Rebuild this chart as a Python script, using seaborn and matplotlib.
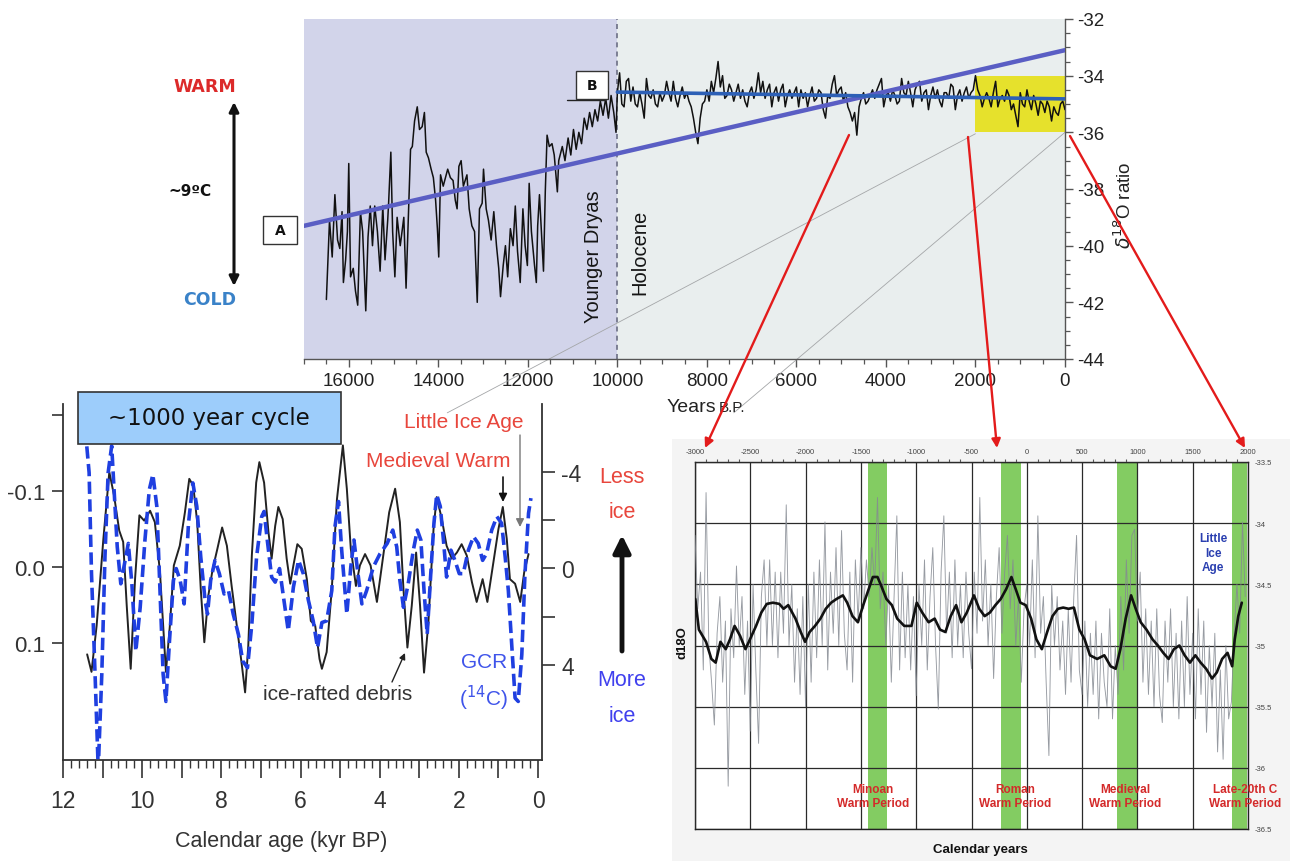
import numpy as np
import pandas as pd
import matplotlib
matplotlib.use("Agg")
import matplotlib.pyplot as plt
import matplotlib.ticker as mticker
from matplotlib.patches import Rectangle, FancyArrowPatch
from matplotlib.lines import Line2D
import seaborn as sns

# ---------------------------------------------------------------- data
# GISP2 oxygen-isotope record, glacial part (years before present, per-mil)
GLACIAL_YEARS = [
    16500, 16430, 16370, 16310, 16250, 16200, 16150, 16120, 16070, 16030,
    16000, 15960, 15900, 15850, 15800, 15740, 15690, 15620, 15570, 15520,
    15470, 15420, 15360, 15300, 15240, 15190, 15130, 15110, 15060, 15020,
    14970, 14920, 14850, 14770, 14720, 14670, 14620, 14580, 14530, 14470,
    14420, 14360, 14310, 14270, 14220, 14160, 14110, 14060, 14020, 13990,
    13950, 13890, 13840, 13790, 13730, 13670, 13620, 13580, 13540, 13490,
    13440, 13360, 13310, 13250, 13190, 13130, 13080, 13020, 12990, 12930,
    12880, 12820, 12760, 12700, 12650, 12610, 12550, 12500, 12450, 12390,
    12330, 12280, 12230, 12170, 12110, 12060, 12010, 11970, 11920, 11850,
    11810, 11780, 11740, 11680, 11650, 11610, 11570, 11520, 11460, 11410,
    11340, 11310, 11230, 11170, 11100, 11040, 10980, 10920, 10860, 10800,
    10740, 10680, 10620, 10560, 10500, 10440, 10380, 10320, 10260, 10200,
    10140, 10080, 10030,
]
GLACIAL_D18O = [
    -41.9, -39.1, -40.4, -38.2, -39.8, -40.1, -38.8, -41.3, -40.5, -39.5,
    -37.1, -41.1, -40.8, -41.6, -42.1, -38.8, -39.5, -42.3, -39.7, -38.6,
    -40.0, -38.6, -39.5, -40.9, -38.6, -40.5, -39.1, -38.5, -36.7, -39.5,
    -41.1, -39.0, -40.0, -39.0, -41.5, -39.1, -36.6, -36.5, -35.6, -35.1,
    -35.9, -35.8, -35.3, -36.7, -36.9, -37.3, -37.6, -38.4, -39.4, -40.4,
    -37.5, -37.9, -37.6, -37.3, -37.6, -37.7, -38.4, -38.7, -37.2, -37.0,
    -37.9, -37.5, -38.7, -39.3, -39.5, -42.0, -38.7, -38.5, -37.3, -38.7,
    -39.1, -39.8, -38.8, -40.0, -40.8, -41.8, -40.7, -40.0, -41.1, -39.4,
    -40.0, -38.6, -40.2, -41.3, -38.7, -40.0, -40.7, -37.8, -39.5, -40.7,
    -41.3, -39.3, -38.2, -40.0, -40.9, -38.1, -36.1, -36.5, -36.4, -36.8,
    -38.1, -37.0, -36.5, -37.0, -36.2, -36.8, -35.9, -36.6, -36.0, -36.4,
    -35.5, -35.9, -35.3, -35.8, -35.2, -35.6, -34.9, -35.4, -34.8, -35.5,
    -34.7, -35.3, -36.0,
]
# Holocene part, 50-year samples from 10000 BP to present
HOLOCENE_YEARS = list(range(10000, -1, -50))
HOLOCENE_D18O = [
    -34.6, -33.9, -35.0, -35.1, -34.2, -34.1, -34.9, -34.4, -35.0, -35.1,
    -34.6, -35.0, -35.5, -34.1, -34.7, -34.8, -34.5, -35.0, -35.1, -34.6,
    -34.9, -34.7, -34.2, -34.6, -34.9, -34.2, -34.8, -35.1, -34.7, -34.4,
    -34.8, -34.6, -34.9, -35.1, -35.5, -36.0, -36.4, -35.5, -35.0, -34.9,
    -34.5, -34.9, -34.2, -34.6, -34.1, -33.5, -34.4, -34.0, -34.8, -34.7,
    -34.3, -34.5, -34.9, -34.6, -34.3, -34.8, -34.5, -34.9, -35.1, -34.6,
    -34.4, -34.8, -34.5, -33.9, -34.6, -34.2, -34.8, -34.5, -34.3, -35.1,
    -34.6, -34.4, -34.9, -34.5, -34.3, -35.1, -34.7, -34.5, -34.8, -34.6,
    -34.4, -35.1, -34.5, -34.8, -34.6, -35.1, -34.7, -34.4, -34.9, -34.8,
    -34.5, -34.6, -35.2, -35.5, -34.7, -34.8, -34.3, -34.0, -34.7, -34.5,
    -34.4, -34.9, -34.6, -35.1, -35.3, -35.6, -35.3, -36.1, -35.1, -34.8,
    -34.6, -35.0, -34.9, -34.7, -34.5, -34.8, -34.5, -34.3, -34.1, -35.1,
    -34.7, -34.6, -34.9, -34.5, -34.7, -35.0, -34.9, -34.1, -34.6, -34.7,
    -34.2, -34.6, -35.1, -34.5, -34.3, -34.2, -34.9, -34.6, -34.5, -35.2,
    -34.7, -34.4, -34.8, -34.5, -34.9, -35.1, -34.6, -34.6, -34.8, -34.3,
    -34.4, -35.2, -34.7, -34.5, -34.9, -34.6, -34.4, -34.8, -34.6, -34.5,
    -34.0, -34.5, -34.7, -35.1, -34.8, -34.6, -34.8, -35.1, -34.6, -34.2,
    -35.1, -34.8, -34.7, -34.9, -34.5, -34.7, -35.2, -35.0, -35.4, -35.8,
    -34.6, -35.0, -35.1, -34.5, -34.9, -35.2, -34.7, -35.0, -35.4, -34.9,
    -35.0, -35.3, -34.9, -35.1, -35.6, -35.1, -35.3, -35.4, -35.0, -34.9,
    -35.2,
]
# straight-line fits drawn over the record
TREND_A_YEARS = [17000, 0]
TREND_A_D18O = [-39.3, -33.1]
TREND_B_YEARS = [10000, 0]
TREND_B_D18O = [-34.58, -34.82]

# ~1000-year cycle: ice-rafted debris (left axis) and GCR 14C (right axis)
IRD_KYR = [
    11.39, 11.28, 11.15, 10.98, 10.83, 10.71, 10.58, 10.48, 10.39, 10.29,
    10.18, 10.07, 9.95, 9.80, 9.68, 9.55, 9.40, 9.30, 9.20, 9.05,
    8.92, 8.81, 8.71, 8.61, 8.52, 8.43, 8.33, 8.22, 8.10, 7.98,
    7.86, 7.74, 7.61, 7.48, 7.40, 7.32, 7.23, 7.12, 7.04, 6.92,
    6.81, 6.73, 6.64, 6.56, 6.45, 6.35, 6.26, 6.18, 6.08, 5.97,
    5.84, 5.74, 5.63, 5.52, 5.46, 5.34, 5.21, 5.08, 4.93, 4.83,
    4.73, 4.60, 4.50, 4.37, 4.23, 4.07, 3.91, 3.76, 3.61, 3.49,
    3.40, 3.30, 3.19, 3.08, 2.98, 2.88, 2.77, 2.64, 2.56, 2.43,
    2.31, 2.18, 2.05, 1.93, 1.80, 1.67, 1.55, 1.40, 1.28, 1.14,
    1.00, 0.89, 0.79, 0.71, 0.58, 0.45, 0.35, 0.24,
]
IRD_VALUE = [
    0.115, 0.138, 0.077, -0.037, -0.125, -0.094, -0.048, -0.033, 0.051, 0.134,
    0.016, -0.068, -0.061, -0.074, -0.059, 0.007, 0.138, 0.077, -0.002, -0.028,
    -0.072, -0.116, -0.107, -0.059, 0.029, 0.099, 0.038, 0.003, -0.024, -0.052,
    -0.028, 0.025, 0.077, 0.130, 0.165, 0.104, -0.015, -0.111, -0.138, -0.111,
    -0.046, -0.011, -0.054, -0.079, -0.063, -0.011, 0.022, -0.002, -0.030, -0.024,
    0.016, 0.071, 0.077, 0.121, 0.134, 0.112, 0.029, -0.089, -0.160, -0.103,
    -0.024, 0.025, -0.002, -0.017, -0.002, 0.046, -0.015, -0.072, -0.103, -0.059,
    0.029, 0.106, 0.051, -0.019, 0.051, 0.139, 0.073, -0.050, -0.092, -0.063,
    -0.028, -0.011, -0.019, -0.030, -0.015, 0.020, 0.046, 0.016, 0.046, -0.002,
    -0.050, -0.079, -0.037, 0.016, 0.022, 0.046, 0.007, -0.017,
]
GCR_KYR = [
    11.45, 11.40, 11.34, 11.28, 11.19, 11.11, 11.02, 10.94, 10.86, 10.77,
    10.71, 10.63, 10.54, 10.43, 10.35, 10.26, 10.16, 10.05, 9.93, 9.82,
    9.73, 9.63, 9.55, 9.47, 9.40, 9.31, 9.21, 9.14, 9.04, 8.94,
    8.83, 8.72, 8.62, 8.52, 8.41, 8.35, 8.27, 8.16, 8.05, 7.93,
    7.82, 7.70, 7.57, 7.46, 7.34, 7.23, 7.11, 6.98, 6.92, 6.84,
    6.73, 6.64, 6.53, 6.43, 6.31, 6.18, 6.05, 5.93, 5.80, 5.68,
    5.57, 5.46, 5.34, 5.21, 5.13, 5.04, 4.96, 4.83, 4.73, 4.65,
    4.56, 4.45, 4.33, 4.16, 3.99, 3.81, 3.67, 3.57, 3.49, 3.40,
    3.28, 3.15, 3.05, 2.96, 2.88, 2.80, 2.71, 2.63, 2.56, 2.47,
    2.39, 2.31, 2.20, 2.10, 1.99, 1.89, 1.76, 1.63, 1.51, 1.40,
    1.30, 1.17, 1.04, 0.92, 0.83, 0.75, 0.66, 0.58, 0.50, 0.41,
    0.33, 0.24, 0.18,
]
GCR_VALUE = [
    -6.5, -5.06, -3.95, 0.22, 4.38, 8.3, 4.38, -0.47, -3.95, -5.06,
    -3.25, -0.89, 0.64, -0.33, -1.03, 0.64, 3.42, 1.61, -1.17, -3.25,
    -3.88, -2.56, 0.92, 4.39, 5.5, 3.0, 0.5, 0.01, 0.5, 1.47,
    -1.86, -3.53, -2.56, -0.47, 1.33, 1.89, 0.5, -0.33, 0.22, 1.06,
    0.92, 1.89, 2.72, 3.83, 4.11, 2.31, -0.47, -2.14, -2.35, -1.17,
    0.36, 0.57, 0.01, 1.19, 2.58, 0.78, -0.33, 0.22, 1.33, 2.17,
    3.28, 2.24, 2.17, 0.92, -1.72, -2.76, -0.75, 1.89, -0.06, -1.17,
    0.08, 1.47, 0.92, -0.06, -0.61, -1.03, -1.58, -0.89, 0.5, 1.61,
    0.64, -0.75, -1.58, -1.17, 0.92, 2.72, 0.22, -1.86, -3.04, -2.56,
    -1.17, 0.36, -0.75, -0.33, 0.22, 0.22, -0.75, -1.31, -1.03, -0.33,
    -0.61, -1.58, -2.14, -1.86, -0.47, 0.92, 3.28, 5.36, 5.5, 3.56,
    0.22, -2.28, -2.90,
]

# Late Holocene d18O, calendar years: raw values and running mean
RAW_YEARS = list(range(-3000, 2000, 25))
RAW_D18O = [
    -34.1, -34.7, -34.4, -35.2, -33.75, -35.0, -35.3, -35.65, -34.9, -34.6,
    -35.3, -34.8, -36.15, -34.7, -35.1, -34.35, -35.0, -34.6, -35.4, -34.8,
    -35.7, -34.5, -35.2, -35.8, -34.6, -34.3, -35.0, -34.3, -35.0, -34.4,
    -35.1, -34.4, -34.9, -33.85, -35.0, -34.5, -35.3, -34.7, -35.4, -34.6,
    -35.5, -34.5, -35.3, -34.4, -35.1, -34.3, -35.0, -33.99, -35.2, -34.4,
    -34.9, -34.2, -35.0, -34.06, -34.9, -35.2, -34.4, -35.3, -34.3, -34.8,
    -34.2, -34.7, -34.3, -34.6, -34.2, -34.5, -33.79, -34.7, -34.4, -35.0,
    -34.5, -35.3, -34.6, -33.94, -35.2, -34.4, -35.1, -34.5, -35.2, -34.6,
    -35.41, -34.5, -35.0, -34.3, -35.2, -34.6, -34.2, -35.0, -35.52, -34.4,
    -33.94, -34.9, -34.4, -35.1, -34.3, -35.0, -34.5, -35.1, -34.4, -34.9,
    -35.19, -34.4, -34.9, -33.79, -34.8, -34.3, -35.0, -34.5, -35.27, -34.6,
    -34.2, -34.9, -34.4, -34.1, -34.7, -34.3, -35.0, -34.6, -35.3, -34.7,
    -34.5, -35.0, -34.3, -35.1, -33.94, -34.9, -34.6, -35.3, -35.9, -34.5,
    -35.0, -34.6, -35.2, -34.8, -35.4, -34.7, -35.3, -34.6, -34.1, -35.2,
    -35.4, -34.8, -35.5, -34.9, -35.4, -34.8, -35.6, -34.9, -35.3, -35.5,
    -34.7, -35.6, -35.0, -35.4, -34.6, -35.2, -34.3, -34.9, -34.1, -34.05,
    -34.8, -34.4, -35.3, -34.7, -35.4, -34.8, -35.5, -34.7, -35.4, -35.63,
    -34.8, -35.3, -34.7, -35.5, -34.9, -35.6, -34.8, -35.5, -34.6, -35.4,
    -34.9, -35.6, -34.7, -35.4, -34.8, -35.71, -35.0, -35.5, -34.9, -35.87,
    -35.2, -35.93, -35.0, -35.6, -35.46, -34.9, -34.5, -34.9, -33.99, -34.6,
]
MEAN_YEARS = [
    -2997, -2965, -2900, -2852, -2813, -2770, -2722, -2684, -2642, -2593,
    -2544, -2503, -2448, -2400, -2351, -2296, -2238, -2199, -2157, -2092,
    -2044, -2005, -1964, -1915, -1866, -1818, -1769, -1721, -1663, -1624,
    -1576, -1527, -1479, -1430, -1392, -1350, -1317, -1269, -1220, -1172,
    -1108, -1043, -995, -946, -888, -833, -785, -736, -688, -639,
    -591, -542, -478, -430, -381, -333, -284, -236, -187, -139,
    -100, -58, -10, 39, 87, 136, 184, 232, 281, 329,
    378, 426, 475, 523, 571, 636, 701, 758, 804, 846,
    894, 943, 985, 1030, 1082, 1137, 1185, 1234, 1282, 1330,
    1379, 1427, 1475, 1524, 1572, 1621, 1675, 1718, 1766, 1815,
    1857, 1880, 1912, 1944,
]
MEAN_D18O = [
    -34.62, -34.87, -34.97, -35.11, -35.14, -34.97, -35.03, -34.95, -34.84, -34.92,
    -35.03, -34.95, -34.84, -34.73, -34.66, -34.65, -34.66, -34.70, -34.67, -34.78,
    -34.89, -34.97, -34.89, -34.84, -34.78, -34.70, -34.65, -34.62, -34.59, -34.65,
    -34.76, -34.81, -34.67, -34.54, -34.44, -34.44, -34.51, -34.62, -34.67, -34.78,
    -34.84, -34.84, -34.65, -34.73, -34.81, -34.78, -34.87, -34.89, -34.76, -34.67,
    -34.81, -34.73, -34.59, -34.70, -34.76, -34.73, -34.67, -34.62, -34.54, -34.44,
    -34.54, -34.65, -34.67, -34.78, -34.95, -35.03, -34.89, -34.76, -34.70, -34.69,
    -34.70, -34.69, -34.87, -34.95, -35.08, -35.11, -35.08, -35.17, -35.19, -35.03,
    -34.78, -34.59, -34.70, -34.81, -34.87, -34.95, -35.00, -35.06, -35.11, -35.03,
    -35.00, -35.08, -35.14, -35.08, -35.14, -35.19, -35.27, -35.22, -35.11, -35.06,
    -35.17, -34.95, -34.76, -34.65,
]
WARM_PERIODS = ["Minoan\nWarm Period", "Roman\nWarm Period",
                "Medieval\nWarm Period", "Late-20th C\nWarm Period"]
WARM_START = [-1440, -229, 818, 1856]
WARM_END = [-1267, -49, 1007, 1990]

# ---------------------------------------------------------------- style
sns.set_theme(style="white")
plt.rcParams["font.family"] = ["Liberation Sans", "DejaVu Sans"]
plt.rcParams["axes.unicode_minus"] = False

W, H = 1290, 862
fig = plt.figure(figsize=(W / 100, H / 100), dpi=100, facecolor="white")


def fx(px):
    return px / W


def fy(py):
    return 1 - py / H


def box(left, top, right, bottom):
    return [fx(left), fy(bottom), (right - left) / W, (bottom - top) / H]


def ftext(px, py, s, **kw):
    kw.setdefault("ha", "center")
    kw.setdefault("va", "center")
    return fig.text(fx(px), fy(py), s, **kw)


def farrow(p0, p1, **kw):
    a = FancyArrowPatch((fx(p0[0]), fy(p0[1])), (fx(p1[0]), fy(p1[1])),
                        transform=fig.transFigure, shrinkA=0, shrinkB=0, **kw)
    fig.add_artist(a)
    return a


# light backdrop behind the Holocene panel
fig.add_artist(Rectangle((fx(672), fy(862)), (1290 - 672) / W, (862 - 440) / H,
                         transform=fig.transFigure, facecolor="#f4f4f4",
                         edgecolor="none", zorder=-5))

# ================================================================ top panel
ax_top = fig.add_axes(box(304, 20, 1065, 360))
ax_top.set_facecolor("none")
ax_top.axvspan(17000, 10000, color="#d2d4ea", lw=0, zorder=0)
ax_top.axvspan(10000, 0, color="#e9eeee", lw=0, zorder=0)
ax_top.add_patch(Rectangle((0, -36), 2000, 2, facecolor="#e6e12c",
                           edgecolor="none", zorder=1))
ax_top.axvline(10000, color="#6b6e84", lw=1.2, ls=(0, (3, 2.5)), zorder=2)

# thin guide lines running out of the panel
ax_top.plot([2000, 13800], [-36.05, -45.9], color="#a4a6a8", lw=0.6,
            clip_on=False, zorder=1)
ax_top.plot([0, 7400], [-36.0, -45.9], color="#a4a6a8", lw=0.6,
            clip_on=False, zorder=1)

gisp = pd.DataFrame({"year": GLACIAL_YEARS + HOLOCENE_YEARS,
                     "d18o": GLACIAL_D18O + HOLOCENE_D18O})
sns.lineplot(data=gisp, x="year", y="d18o", ax=ax_top, color="#111111",
             linewidth=1.1, estimator=None, sort=False, zorder=3)
sns.lineplot(x=TREND_A_YEARS, y=TREND_A_D18O, ax=ax_top, color="#5a5ec4",
             linewidth=3.2, estimator=None, sort=False, zorder=4)
sns.lineplot(x=TREND_B_YEARS, y=TREND_B_D18O, ax=ax_top, color="#2d60b6",
             linewidth=2.6, estimator=None, sort=False, zorder=5)

ax_top.set_xlim(17000, 0)
ax_top.set_ylim(-44, -32)
ax_top.set_xlabel("")
ax_top.set_ylabel("")
ax_top.yaxis.tick_right()
for s in ("left", "top"):
    ax_top.spines[s].set_visible(False)
for s in ("bottom", "right"):
    ax_top.spines[s].set_color("#555555")
    ax_top.spines[s].set_linewidth(1.0)
ax_top.set_xticks(range(0, 16001, 2000))
ax_top.xaxis.set_minor_locator(mticker.MultipleLocator(500))
ax_top.set_yticks(range(-44, -31, 2))
ax_top.yaxis.set_minor_locator(mticker.MultipleLocator(0.5))
ax_top.tick_params(which="major", length=6, width=1.0, color="#555555",
                   labelcolor="#222222", labelsize=13.5, direction="out")
ax_top.tick_params(which="minor", length=3.5, width=0.9, color="#555555",
                   direction="out")
ax_top.tick_params(axis="x", which="both", bottom=True, top=False)
ax_top.tick_params(axis="y", which="both", right=True, left=False, pad=3)

ax_top.text(10536, -40.37, "Younger Dryas", rotation=90, ha="center",
            va="center", fontsize=14.5, color="#151515")
ax_top.text(9486, -40.2, "Holocene", rotation=90, ha="center",
            va="center", fontsize=14.5, color="#151515")

ftext(716, 407, "Years", fontsize=14, color="#222222", ha="right")
ftext(719, 408, "B.P.", fontsize=11, color="#222222", ha="left")
ftext(1124, 205, r"$\delta^{18}$O ratio", rotation=90, fontsize=13.5,
      color="#222222")

# warm / cold scale at left
ftext(205, 87, "WARM", fontsize=12.5, weight="heavy", color="#dc2a2a",
      family="DejaVu Sans")
ftext(210, 300, "COLD", fontsize=12.5, weight="heavy", color="#3a82c8",
      family="DejaVu Sans")
ftext(190, 191, "~9ºC", fontsize=11, weight="bold", color="#111111",
      family="DejaVu Sans")
farrow((234, 103), (234, 287), arrowstyle="<|-|>", mutation_scale=14,
       color="#111111", lw=2.2)

# boxed markers
for (l, t, r, b, lab) in ((263, 217, 297, 245, "A"), (576, 72, 608, 100, "B")):
    fig.add_artist(Rectangle((fx(l), fy(b)), (r - l) / W, (b - t) / H,
                             transform=fig.transFigure, facecolor="white",
                             edgecolor="#333333", lw=1.0, zorder=6))
    ftext((l + r) / 2, (t + b) / 2, lab, fontsize=10, weight="bold",
          color="#111111", zorder=7, family="DejaVu Sans")
fig.add_artist(Line2D([fx(567), fx(605)], [fy(101), fy(101)],
                      transform=fig.transFigure, color="#222222", lw=1.0))

# ================================================================ cycle panel
ax_cyc = fig.add_axes(box(63, 405, 542, 761))
ax_gcr = ax_cyc.twinx()
ax_cyc.set_facecolor("none")

sns.lineplot(x=IRD_KYR, y=IRD_VALUE, ax=ax_cyc, color="#222222",
             linewidth=1.4, estimator=None, sort=False)
sns.lineplot(x=GCR_KYR, y=GCR_VALUE, ax=ax_gcr, color="#1f3fe0",
             linewidth=2.6, estimator=None, sort=False)
ax_gcr.lines[-1].set_dashes([3.4, 1.5])

ax_cyc.set_xlim(12, -0.1)
ax_cyc.set_ylim(0.254, -0.2145)
ax_gcr.set_ylim(7.92, -6.79)
for a in (ax_cyc, ax_gcr):
    a.set_xlabel("")
    a.set_ylabel("")
ax_cyc.spines["top"].set_visible(False)
ax_cyc.spines["right"].set_visible(False)
for s in ("top", "left", "bottom"):
    ax_gcr.spines[s].set_visible(False)
for s in ("left", "bottom"):
    ax_cyc.spines[s].set_color("#333333")
    ax_cyc.spines[s].set_linewidth(1.3)
ax_gcr.spines["right"].set_color("#333333")
ax_gcr.spines["right"].set_linewidth(1.3)

ax_cyc.xaxis.set_major_locator(mticker.FixedLocator(range(0, 13)))
ax_cyc.xaxis.set_major_formatter(mticker.FuncFormatter(
    lambda v, p: f"{int(round(v))}" if int(round(v)) % 2 == 0 else ""))
ax_cyc.xaxis.set_minor_locator(mticker.MultipleLocator(0.2))
ax_cyc.set_yticks([-0.2, -0.1, 0.0, 0.1])
ax_cyc.set_yticklabels(["", "-0.1", "0.0", "0.1"])
ax_gcr.set_yticks([-4, -2, 0, 2, 4])
ax_gcr.set_yticklabels(["-4", "", "0", "", "4"])
ax_cyc.tick_params(axis="x", which="major", length=13, width=1.2,
                   color="#333333", labelcolor="#333333", labelsize=16.5,
                   pad=8, bottom=True)
ax_cyc.tick_params(axis="x", which="minor", length=6, width=1.0,
                   color="#333333", bottom=True)
ax_cyc.tick_params(axis="y", which="major", length=8, width=1.2,
                   color="#333333", labelcolor="#333333", labelsize=16,
                   pad=5, left=True)
ax_gcr.tick_params(axis="y", which="major", length=9, width=1.2,
                   color="#333333", labelcolor="#333333", labelsize=16.5,
                   pad=5, right=True)

# title box
fig.add_artist(Rectangle((fx(78), fy(445)), (341 - 78) / W, (445 - 393) / H,
                         transform=fig.transFigure, facecolor="#9dcdfb",
                         edgecolor="#333333", lw=1.2, zorder=5))
ftext(209, 419, "~1000 year cycle", fontsize=16.5, color="#111111",
      family="DejaVu Sans", zorder=6)

ftext(281, 842, "Calendar age (kyr BP)", fontsize=15.5, color="#333333")
ftext(338, 695, "ice-rafted debris", fontsize=15, color="#333333")
farrow((392, 683), (405, 654), arrowstyle="-|>", mutation_scale=9,
       color="#222222", lw=1.0)
ftext(484, 663, "GCR", fontsize=15, color="#3f54ea")
ftext(484, 698, r"($^{14}$C)", fontsize=15, color="#3f54ea")
ftext(464, 423, "Little Ice Age", fontsize=15, color="#e8463c")
ftext(438, 462, "Medieval Warm", fontsize=15, color="#e8463c")
farrow((503, 478), (503, 503), arrowstyle="-|>", mutation_scale=12,
       color="#111111", lw=1.2)
farrow((520, 436), (520, 528), arrowstyle="-|>", mutation_scale=12,
       color="#777777", lw=1.0)
ftext(622, 478, "Less", fontsize=15.5, color="#e8463c")
ftext(622, 513, "ice", fontsize=15.5, color="#e8463c")
ftext(622, 680, "More", fontsize=15.5, color="#4040ee")
ftext(622, 716, "ice", fontsize=15.5, color="#4040ee")
farrow((622, 652), (622, 536), arrowstyle="-|>", mutation_scale=26,
       color="#111111", lw=3.5)

# ================================================================ Holocene panel
ax_hol = fig.add_axes(box(695, 463, 1248, 830))
ax_hol.set_facecolor("white")
for s0, s1 in zip(WARM_START, WARM_END):
    ax_hol.axvspan(s0, s1, color="#83cc62", lw=0, zorder=1)

raw = pd.DataFrame({"year": RAW_YEARS, "d18o": RAW_D18O})
mean = pd.DataFrame({"year": MEAN_YEARS, "d18o": MEAN_D18O})
sns.lineplot(data=raw, x="year", y="d18o", ax=ax_hol, color="#858a92",
             linewidth=0.65, alpha=0.85, estimator=None, sort=False, zorder=3)
sns.lineplot(data=mean, x="year", y="d18o", ax=ax_hol, color="#111111",
             linewidth=1.9, estimator=None, sort=False, zorder=4)

ax_hol.set_xlim(-3000, 2000)
ax_hol.set_ylim(-36.5, -33.5)
ax_hol.set_xlabel("")
ax_hol.set_ylabel("")
ax_hol.set_axisbelow(False)
ax_hol.grid(True, color="#2a2a2a", lw=0.9, zorder=2)
ax_hol.xaxis.tick_top()
ax_hol.yaxis.tick_right()
ax_hol.set_xticks(range(-3000, 2001, 500))
ax_hol.xaxis.set_minor_locator(mticker.MultipleLocator(100))
ax_hol.set_yticks(np.arange(-36.5, -33.4, 0.5))
ax_hol.yaxis.set_major_formatter(mticker.FuncFormatter(
    lambda v, p: f"{v:g}"))
ax_hol.tick_params(which="major", length=0, labelsize=5.5,
                   labelcolor="#444444", pad=5)
ax_hol.tick_params(axis="x", which="minor", top=True, length=2, width=0.8,
                   color="#555555")
for s in ax_hol.spines.values():
    s.set_color("#222222")
    s.set_linewidth(1.0)

label_x = [-1391, -107, 888, 1973]
for txt, lx in zip(WARM_PERIODS, label_x):
    ax_hol.text(lx, -36.23, txt, ha="center", va="center", fontsize=8.5,
                weight="bold", color="#d42a2a", linespacing=1.3,
                clip_on=False, zorder=6)
ax_hol.text(1684, -34.24, "Little\nIce\nAge", ha="center", va="center",
            fontsize=8.5, weight="bold", color="#2a3fb0", linespacing=1.25,
            zorder=6)

ftext(980, 850, "Calendar years", fontsize=9.5, weight="bold",
      color="#111111")
ftext(682, 643, "d18O", rotation=90, fontsize=9.5, weight="bold",
      color="#111111")

# ================================================================ connectors
for p0, p1 in (((849, 136), (705, 449)),
               ((968, 138), (997, 449)),
               ((1070, 137), (1245, 449))):
    farrow(p0, p1, arrowstyle="-|>", mutation_scale=13, color="#e31b1b",
           lw=1.7, zorder=8)

fig.savefig("out.png", dpi=100, facecolor="white")
